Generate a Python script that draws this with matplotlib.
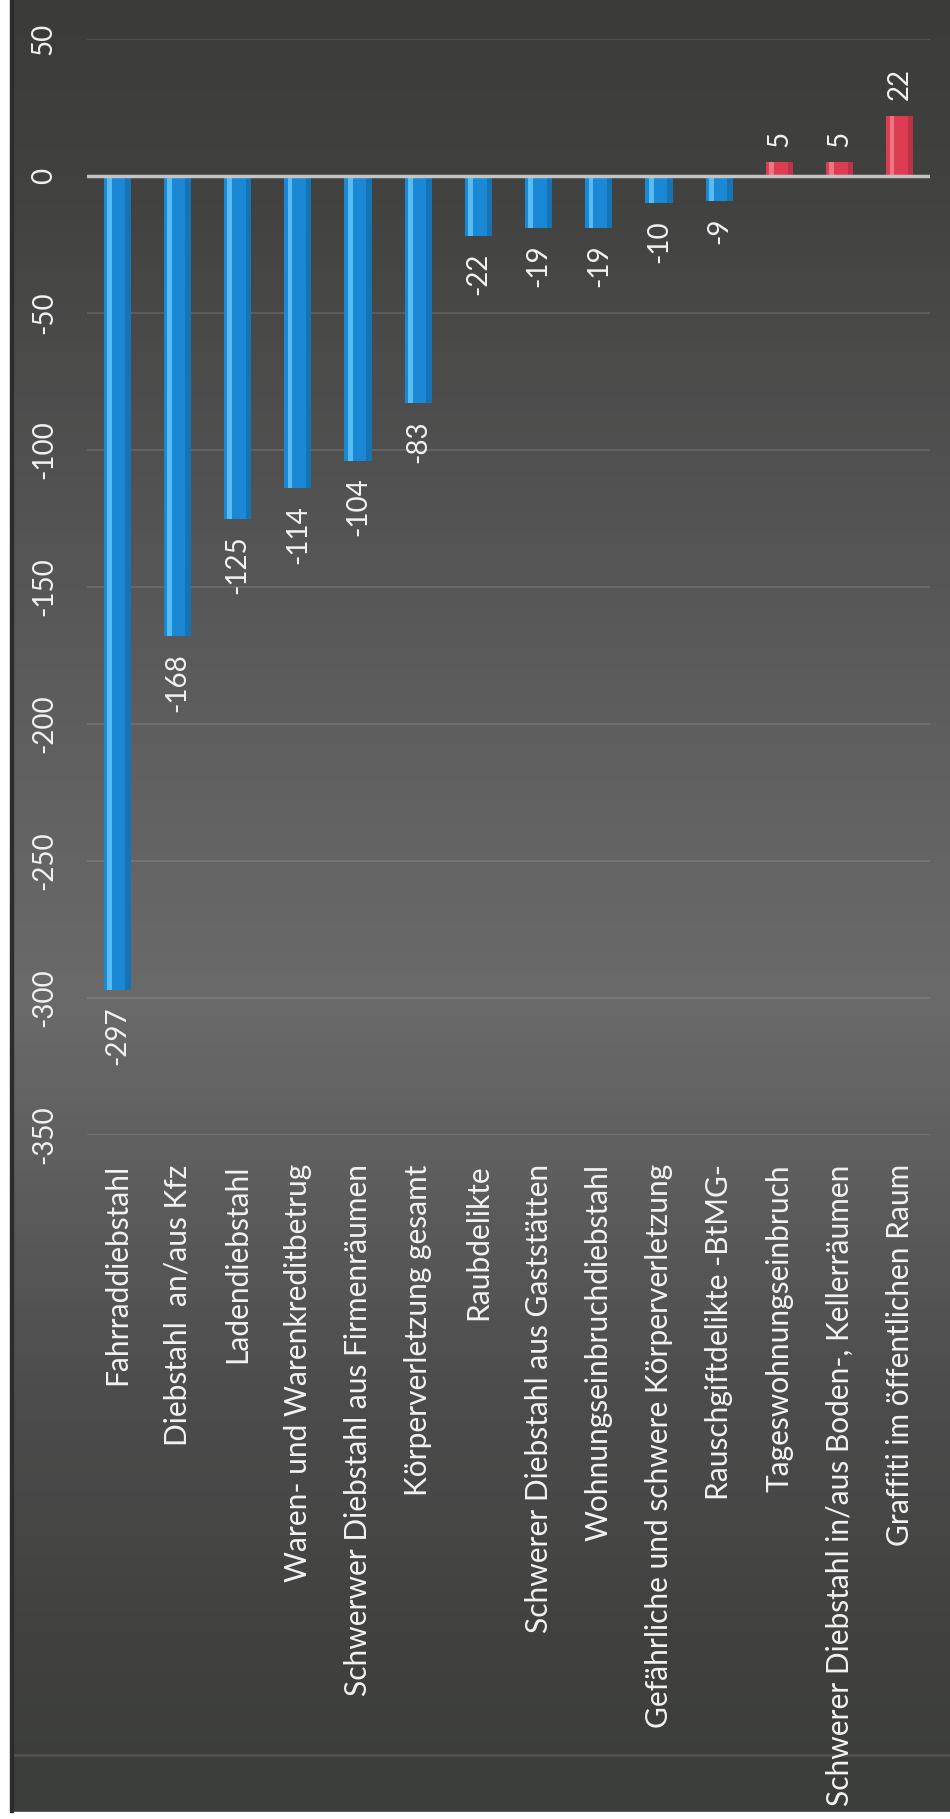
import matplotlib
matplotlib.use("Agg")
import matplotlib.pyplot as plt
from matplotlib.colors import LinearSegmentedColormap
from matplotlib.patches import Rectangle
import numpy as np

# - Data
categories = ["Fahrraddiebstahl",
              "Diebstahl  an/aus Kfz",
              "Ladendiebstahl",
              "Waren- und Warenkreditbetrug",
              "Schwerwer Diebstahl aus Firmenräumen",
              "Körperverletzung gesamt",
              "Raubdelikte",
              "Schwerer Diebstahl aus Gaststätten",
              "Wohnungseinbruchdiebstahl",
              "Gefährliche und schwere Körperverletzung",
              "Rauschgiftdelikte -BtMG-",
              "Tageswohnungseinbruch",
              "Schwerer Diebstahl in/aus Boden-, Kellerräumen",
              "Graffiti im öffentlichen Raum"]
values = [-297, -168, -125, -114, -104, -83, -22, -19, -19, -10, -9, 5, 5, 22]
yticks = [-350, -300, -250, -200, -150, -100, -50, 0, 50]

FONT = ['Lato', 'DejaVu Sans']
TXT = '#f2f2f2'
plt.rcParams['axes.unicode_minus'] = False

fig = plt.figure(figsize=(9.5, 18.19), dpi=100)

# - Background gradient (dark top/bottom, lighter middle)
bg = fig.add_axes([0, 0, 1, 1])
stops = [(0.0, '#3b3c3a'), (0.11, '#424341'), (0.27, '#525252'), (0.44, '#626262'),
         (0.55, '#6a6a6a'), (0.63, '#606060'), (0.77, '#4c4c4c'), (0.9, '#414240'),
         (1.0, '#3b3d3a')]
cmap = LinearSegmentedColormap.from_list('bg', stops)
grad = np.linspace(0, 1, 512).reshape(-1, 1)
bg.imshow(grad, aspect='auto', cmap=cmap, extent=[0, 1, 1, 0])
bg.set_xlim(0, 1)
bg.set_ylim(1, 0)
bg.axhline(1755 / 1819, color='#585858', lw=2, alpha=0.7)
bg.axis('off')

# - White scan margins
fig.patches.append(Rectangle((0, 0), 10 / 950, 1, transform=fig.transFigure,
                             color='white', zorder=5))
fig.patches.append(Rectangle((0, 0), 1, 7 / 1819, transform=fig.transFigure,
                             color='white', zorder=5))
fig.patches.append(Rectangle((10 / 950, 7 / 1819), 3 / 950, 1, transform=fig.transFigure,
                             color='#2c2d2b', zorder=5))

# - Chart
ax = fig.add_axes([87 / 950, 684 / 1819, 843 / 950, 1096 / 1819])
ax.set_facecolor('none')
x = np.arange(len(categories))
cols = ['#1a88d4' if v < 0 else '#dd3d52' for v in values]
hi = ['#63c6f7' if v < 0 else '#f2808c' for v in values]
ax.bar(x, values, width=0.45, color=cols, zorder=3)
ax.bar(x - 0.13, values, width=0.08, color=hi, alpha=0.85, zorder=4)
ax.bar(x + 0.18, values, width=0.09, color='black', alpha=0.15, zorder=4)

ax.set_xlim(-0.5, len(categories) - 0.5)
ax.set_ylim(-350, 50)
ax.set_yticks(yticks, labels=[str(t) for t in yticks])
ax.set_xticks(x, labels=categories)
for lab in ax.get_yticklabels():
    lab.set(rotation=90, ha='center', va='center', family=FONT, fontsize=20, color=TXT)
for lab in ax.get_xticklabels():
    lab.set(rotation=90, ha='center', va='top', family=FONT, fontsize=21.5, color=TXT)
ax.tick_params(axis='y', length=0, pad=31)
ax.tick_params(axis='x', length=0, pad=21)
ax.grid(axis='y', color='white', alpha=0.13, lw=1.2, zorder=1)
ax.axhline(0, color='#c4c4c4', lw=2.5, zorder=5)
for s in ax.spines.values():
    s.set_visible(False)

# - Data labels
for i, v in enumerate(values):
    ax.annotate(str(v), (i, v), xytext=(0, -12 if v < 0 else 11),
                textcoords='offset points', rotation=90, ha='center',
                va='top' if v < 0 else 'bottom', family=FONT, fontsize=20, color=TXT)

fig.savefig('out.png', dpi=100)
